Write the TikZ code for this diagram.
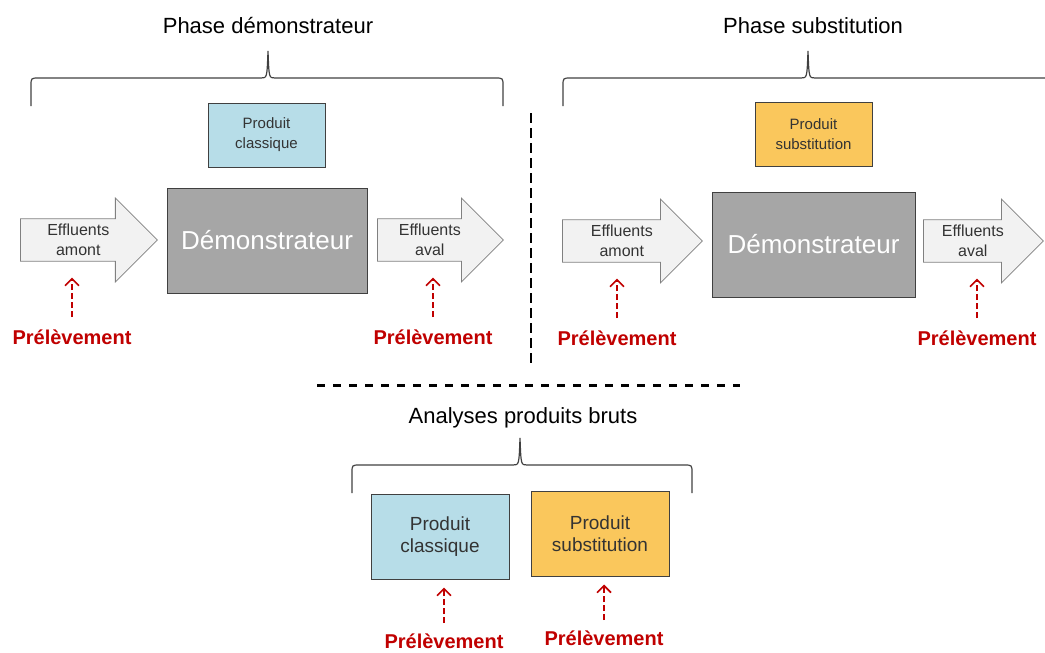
\documentclass[tikz,border=0pt]{standalone}
\usepackage{fontspec}
\setmainfont{Liberation Sans}
\usetikzlibrary{positioning, shapes.arrows, arrows.meta}
\definecolor{boxblue}{HTML}{B7DDE8}
\definecolor{boxorange}{HTML}{FAC75C}
\definecolor{demogray}{HTML}{A6A6A6}
\definecolor{prelred}{HTML}{C00000}
\definecolor{edgegray}{HTML}{404040}
\tikzset{>={Straight Barb[length=7pt,width=14pt,line width=1.6pt]},
every node/.style={inner sep=0pt, align=center},
title/.style={font=\fontsize{22}{26}\selectfont},
produit/.style={draw=edgegray, line width=1pt, minimum width=117, minimum height=64, text=black!80, font=\fontsize{15}{20}\selectfont},
demo/.style={draw=edgegray, fill=demogray, text=white, line width=1pt, minimum width=200, minimum height=105, font=\fontsize{26}{30}\selectfont},
flow/.style={single arrow, draw=gray, fill=gray!10, line width=0.8pt, minimum width=84, single arrow head extend=16, text=black!80, font=\fontsize{16}{20}\selectfont},
prel/.style={text=prelred, font=\bfseries\fontsize{20}{24}\selectfont},
sample/.style={->, prelred, line width=1.8pt, dash pattern=on 6pt off 3pt},
}
\newcommand{\phasebrace}[4]{%
  \draw[edgegray, line width=1.2pt] (#1,#4+28) -- (#1,#4+8) .. controls (#1,#4) .. (#1+8,#4)
    -- (#2-7,#4) .. controls (#2-1,#4) .. (#2,#4-27) .. controls (#2+1,#4) .. (#2+7,#4)
    -- (#3-8,#4) .. controls (#3,#4) .. (#3,#4+8) -- (#3,#4+28);}

\begin{document}
\begin{tikzpicture}[x=1pt, y=-1pt]
\useasboundingbox (0,0) rectangle (1045,653);

% phase demonstrateur
\node[title, anchor=base] (t1) at (268,33) {Phase démonstrateur};
\phasebrace{31}{268}{503}{78}
\node[produit, fill=boxblue] (pc1) at (266.5,135) {Produit\\classique};
\node[demo] (d1) at (267,240.5) {Démonstrateur};
\node[flow, minimum height=137, anchor=tail] (f1) at (20,240) {Effluents\\amont};
\node[flow, minimum height=126, anchor=tail] (f2) at (377,240) {Effluents\\aval};
\node[prel, anchor=base] (p1) at (72,344) {Prélèvement};
\node[prel, anchor=base] (p2) at (433,344) {Prélèvement};

% phase substitution
\node[title, anchor=base] (t2) at (813,33) {Phase substitution};
\phasebrace{563}{808}{1053}{78}
\node[produit, fill=boxorange] (ps2) at (813.5,134.5) {Produit\\substitution};
\node[demo, minimum width=203] (d2) at (813.5,244.5) {Démonstrateur};
\node[flow, minimum height=140, anchor=tail] (f3) at (562,241) {Effluents\\amont};
\node[flow, minimum height=120, anchor=tail] (f4) at (923,241) {Effluents\\aval};
\node[prel, anchor=base] (p3) at (617,345) {Prélèvement};
\node[prel, anchor=base] (p4) at (977,345) {Prélèvement};

% analyses
\node[title, anchor=base] (t3) at (523,423) {Analyses produits bruts};
\phasebrace{352}{520}{692}{465}
\node[produit, fill=boxblue, minimum width=138, minimum height=85, font=\fontsize{19}{22}\selectfont] (pc3) at (440,536.5) {Produit\\classique};
\node[produit, fill=boxorange, minimum width=138, minimum height=85, font=\fontsize{19}{22}\selectfont] (ps3) at (600,533.5) {Produit\\substitution};
\node[prel, anchor=base] (p5) at (444,648) {Prélèvement};
\node[prel, anchor=base] (p6) at (604,645) {Prélèvement};

\draw[line width=2.5pt, dash pattern=on 10pt off 5pt] (531,113) -- (531,365);
\draw[line width=3pt, dash pattern=on 8pt off 8pt] (317,385) -- (740,385);

\draw[sample, shorten <=12pt, shorten >=16pt] (p1.north) -- (p1.north |- f1.south);
\draw[sample, shorten <=12pt, shorten >=16pt] (p2.north) -- (p2.north |- f2.south);
\draw[sample, shorten <=12pt, shorten >=16pt] (p3.north) -- (p3.north |- f3.south);
\draw[sample, shorten <=12pt, shorten >=16pt] (p4.north) -- (p4.north |- f4.south);
\draw[sample, shorten <=10pt, shorten >=8pt] (p5.north) -- (p5.north |- pc3.south);
\draw[sample, shorten <=10pt, shorten >=8pt] (p6.north) -- (p6.north |- ps3.south);
\end{tikzpicture}
\end{document}
